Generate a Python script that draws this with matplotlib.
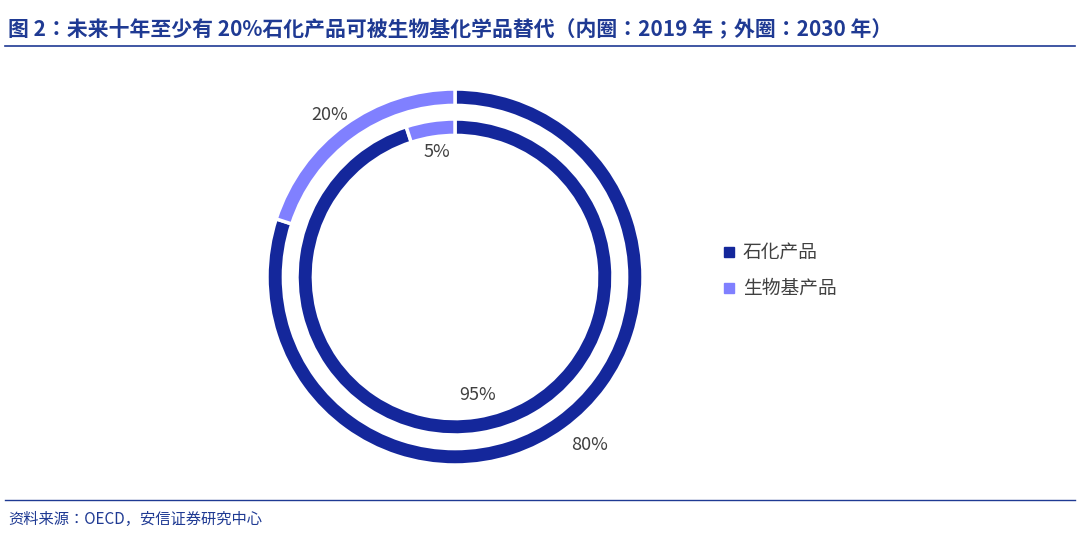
import matplotlib
matplotlib.use("Agg")
import matplotlib.pyplot as plt
from matplotlib.lines import Line2D

plt.rcParams['font.family'] = ['Noto Sans CJK SC', 'Noto Sans CJK JP', 'Noto Sans CJK TC',
                               'Noto Sans CJK KR', 'DejaVu Sans']

categories = ["石化产品", "生物基产品"]
inner_2019 = [95, 5]
outer_2030 = [80, 20]
inner_labels = ["95%", "5%"]
outer_labels = ["80%", "20%"]
colors = ["#14279B", "#8080FF"]

W, H = 1080, 535
fig = plt.figure(figsize=(W/100, H/100), dpi=100)

fig.text(8/W, 1-30/H, "图 2：未来十年至少有 20%石化产品可被生物基化学品替代（内圈：2019 年；外圈：2030 年）",
         color="#1F3A93", fontsize=15, fontweight="bold", va="center", ha="left")
fig.add_artist(Line2D([5/W, 1-5/W], [1-46/H, 1-46/H], color="#1F3A93", lw=1.2))
fig.add_artist(Line2D([5/W, 1-5/W], [1-500/H, 1-500/H], color="#1F3A93", lw=1.0))
fig.text(8/W, 1-519/H, "资料来源：OECD，安信证券研究中心", color="#1F3A93",
         fontsize=11, style="italic", va="center", ha="left")

cx, cy, R = 455, 277, 200
ax = fig.add_axes([(cx-R)/W, (H-cy-R)/H, 2*R/W, 2*R/H])
ax.axis("off")

ax.pie(outer_2030, radius=0.94, colors=colors, startangle=90, counterclock=False,
       wedgeprops=dict(width=0.082, edgecolor="white", linewidth=2.5))
ax.pie(inner_2019, radius=0.79, colors=colors, startangle=90, counterclock=False,
       wedgeprops=dict(width=0.082, edgecolor="white", linewidth=2.5))
ax.set_xlim(-1, 1); ax.set_ylim(-1, 1)

tc = "#404040"
ax.text(0.675, -0.84, outer_labels[0], ha="center", va="center", fontsize=13, color=tc)
ax.text(-0.625, 0.81, outer_labels[1], ha="center", va="center", fontsize=13, color=tc)
ax.text(0.115, -0.59, inner_labels[0], ha="center", va="center", fontsize=13, color=tc)
ax.text(-0.09, 0.625, inner_labels[1], ha="center", va="center", fontsize=13, color=tc)

for i, (c, col) in enumerate(zip(categories, colors)):
    y = 252 + 36*i
    fig.patches.append(plt.Rectangle((724/W, 1-(y+5)/H), 10/W, 10/H, color=col,
                                     transform=fig.transFigure, figure=fig))
    fig.text(743/W, 1-y/H, c, fontsize=13.5, color=tc, va="center", ha="left")

fig.savefig("out.png", dpi=100)
